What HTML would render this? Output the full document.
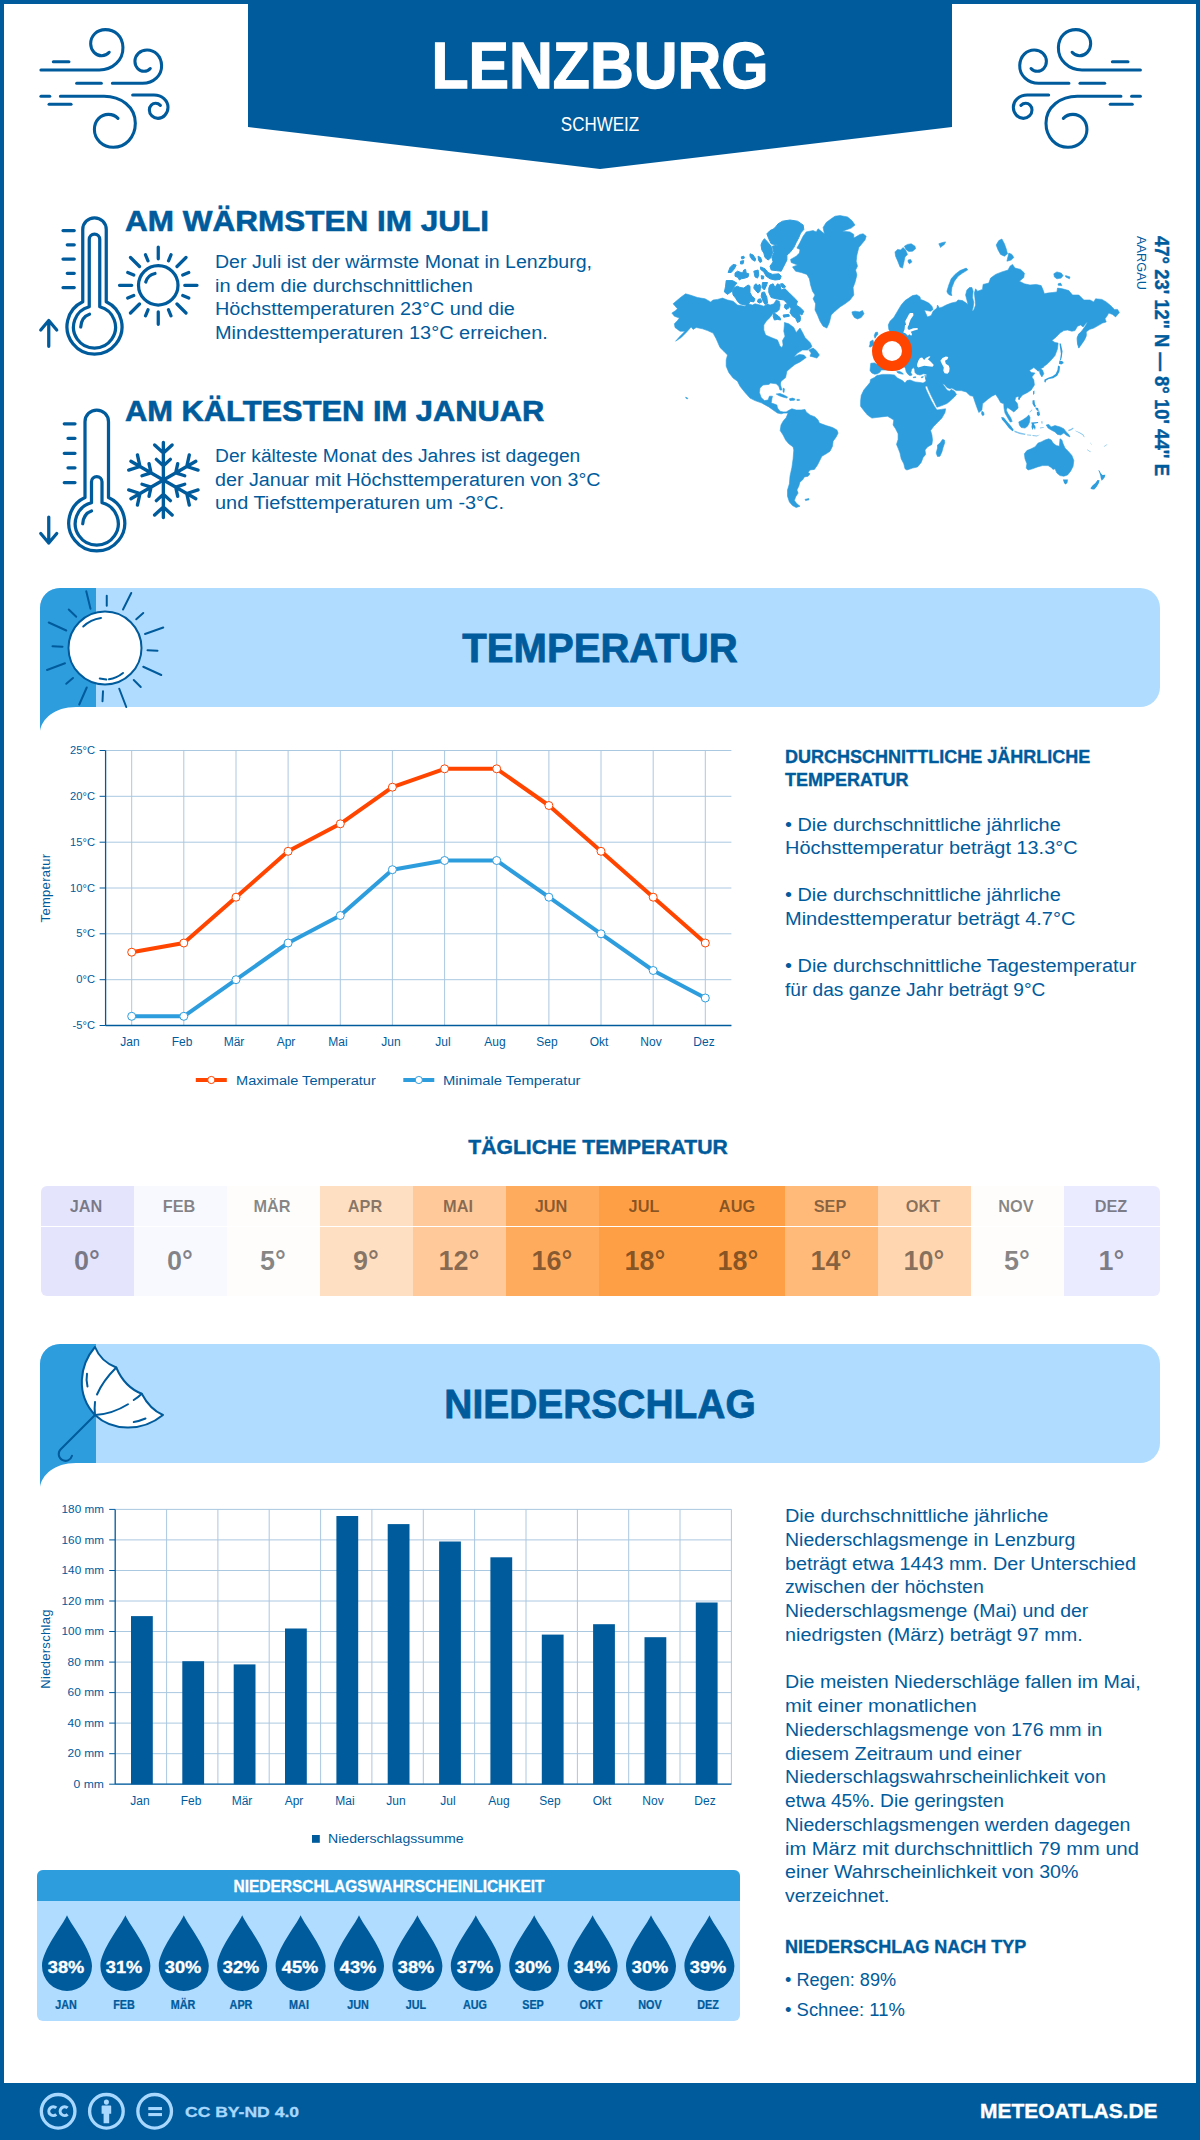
<!DOCTYPE html><html><head><meta charset="utf-8"><title>Lenzburg</title><style>
html,body{margin:0;padding:0;}
body{width:1200px;height:2140px;position:relative;overflow:hidden;background:#fff;font-family:"Liberation Sans", sans-serif;color:#005b9c;}
.abs{position:absolute;}
.t{position:absolute;white-space:nowrap;line-height:1;}
.b{font-weight:bold;}
.hv{-webkit-text-stroke:0.018em currentColor;}
svg{position:absolute;overflow:visible;}
</style></head><body>
<div class="abs" style="left:0;top:0;width:1200px;height:2140px;box-sizing:border-box;border:4px solid #005b9c;border-bottom:none;"></div>
<div class="abs" style="left:0;top:2083px;width:1200px;height:57px;background:#005b9c;"></div>
<svg style="left:0;top:0" width="1200" height="180" viewBox="0 0 1200 180"><polygon points="248,0 952,0 952,127 600,169 248,127" fill="#005b9c"/></svg>
<div class="t" id="title" style="top:33.52px;font-size:64px;font-weight:bold;color:#fff;letter-spacing:0px;-webkit-text-stroke:1.28px #fff;left:600px;transform:translateX(-50%) scaleX(0.9479);">LENZBURG</div>
<div class="t" id="country" style="top:115.19px;font-size:19.5px;font-weight:normal;color:#fff;letter-spacing:0px;left:600px;transform:translateX(-50%) scaleX(0.8709);">SCHWEIZ</div>
<div class="t" id="h1" style="top:205.50px;font-size:30px;font-weight:bold;color:#005b9c;letter-spacing:0px;-webkit-text-stroke:0.60px #005b9c;left:125px;transform-origin:0 50%;transform:scaleX(1.0501);">AM WÄRMSTEN IM JULI</div>
<div class="t" id="p1_0" style="top:253.16px;font-size:18px;font-weight:normal;color:#005b9c;letter-spacing:0px;left:215.3px;transform-origin:0 50%;transform:scaleX(1.0860);">Der Juli ist der wärmste Monat in Lenzburg,</div>
<div class="t" id="p1_1" style="top:276.76px;font-size:18px;font-weight:normal;color:#005b9c;letter-spacing:0px;left:215.3px;transform-origin:0 50%;transform:scaleX(1.1106);">in dem die durchschnittlichen</div>
<div class="t" id="p1_2" style="top:300.36px;font-size:18px;font-weight:normal;color:#005b9c;letter-spacing:0px;left:215.3px;transform-origin:0 50%;transform:scaleX(1.1008);">Höchsttemperaturen 23°C und die</div>
<div class="t" id="p1_3" style="top:323.96px;font-size:18px;font-weight:normal;color:#005b9c;letter-spacing:0px;left:215.3px;transform-origin:0 50%;transform:scaleX(1.1080);">Mindesttemperaturen 13°C erreichen.</div>
<div class="t" id="h2" style="top:395.50px;font-size:30px;font-weight:bold;color:#005b9c;letter-spacing:0px;-webkit-text-stroke:0.60px #005b9c;left:125px;transform-origin:0 50%;transform:scaleX(1.0285);">AM KÄLTESTEN IM JANUAR</div>
<div class="t" id="p2_0" style="top:446.96px;font-size:18px;font-weight:normal;color:#005b9c;letter-spacing:0px;left:215.3px;transform-origin:0 50%;transform:scaleX(1.0675);">Der kälteste Monat des Jahres ist dagegen</div>
<div class="t" id="p2_1" style="top:470.51px;font-size:18px;font-weight:normal;color:#005b9c;letter-spacing:0px;left:215.3px;transform-origin:0 50%;transform:scaleX(1.0943);">der Januar mit Höchsttemperaturen von 3°C</div>
<div class="t" id="p2_2" style="top:494.06px;font-size:18px;font-weight:normal;color:#005b9c;letter-spacing:0px;left:215.3px;transform-origin:0 50%;transform:scaleX(1.1059);">und Tiefsttemperaturen um -3°C.</div>
<svg style="left:30px;top:20px" width="160" height="140" viewBox="0 0 1200 1050" fill="none" stroke="#005b9c" stroke-width="23" stroke-linecap="round" stroke-linejoin="round">
<g id="wind">
<path d="M175,313 L292,313"/>
<path d="M82,375 L520,375 C620,375 700,300 697,205 C694,120 635,72 565,72 C500,72 455,120 455,178 C455,230 495,268 538,268 C562,268 582,256 594,242"/>
<path d="M350,475 L535,475"/>
<path d="M618,475 L845,475 C925,475 990,415 987,340 C984,270 935,225 878,225 C825,225 787,262 787,310 C787,352 818,385 855,385 C875,385 893,375 902,364"/>
<path d="M82,572 L148,572"/>
<path d="M228,572 L555,572 C680,572 790,650 790,775 C790,880 715,955 625,955 C545,955 483,895 483,822 C483,755 530,708 588,708 C620,708 645,722 660,738"/>
<path d="M143,632 L308,632"/>
<path d="M770,562 L930,562 C990,562 1035,605 1035,655 C1035,700 1000,738 960,738 C925,738 895,710 895,675 C895,645 918,625 942,625 C958,625 970,632 978,640"/>
</g>
</svg>
<svg style="left:1000px;top:20px" width="160" height="140" viewBox="0 0 1200 1050" fill="none" stroke="#005b9c" stroke-width="23" stroke-linecap="round" stroke-linejoin="round">
<use href="#wind" transform="translate(1135,0) scale(-1,1)"/>
</svg>
<!-- warm thermometer : viewBox = zoom coords of region [30,190,330,370] x4 -->
<svg style="left:30px;top:190px" width="300" height="180" viewBox="0 0 1200 720" fill="none" stroke="#005b9c" stroke-width="13" stroke-linecap="round" stroke-linejoin="round">
<path d="M132,162 H177 M149,219 H177 M132,276 H177 M149,333 H177 M132,390 H177"/>
<path d="M211,158 A47,47 0 0 1 305,158 L305,447 A110,110 0 1 1 211,447 Z"/>
<path d="M237,197 A21,21 0 0 1 279,197 L279,467 A84,84 0 1 1 237,467 Z"/>
<path d="M203,548 C205,520 220,503 238,497"/>
<path d="M75,625 V522 M43,560 L75,522 L107,560"/>
<!-- sun -->
<circle cx="513" cy="381" r="79"/>
<path d="M463,368 C468,350 482,338 500,334"/>
<path d="M513,275 V228 M513,487 V537 M407,381 H358 M619,381 H668 M438,306 L402,270 M588,306 L624,270 M438,456 L402,492 M588,456 L624,492"/>
<path d="M472,283 L462,259 M554,283 L564,259 M472,479 L462,503 M554,479 L564,503 M415,340 L391,330 M415,422 L391,432 M611,340 L635,330 M611,422 L635,432"/>
</svg>
<!-- cold thermometer : region [30,380,330,560] x4 -->
<svg style="left:30px;top:380px" width="300" height="180" viewBox="0 0 1200 720" fill="none" stroke="#005b9c" stroke-width="13" stroke-linecap="round" stroke-linejoin="round">
<path d="M137,175 H180 M152,233 H180 M137,293 H180 M152,351 H180 M137,410 H180"/>
<path d="M220,167 A47,47 0 0 1 314,167 L314,470 A112,112 0 1 1 220,470 Z"/>
<path d="M246,407 A21,21 0 0 1 288,407 L288,491 A86,86 0 1 1 246,491 Z"/>
<path d="M211,575 C213,547 228,530 246,524"/>
<path d="M75,548 V652 M43,614 L75,652 L107,614"/>
<!-- snowflake -->
<g stroke-width="13.5">
<path id="arm" d="M533.5,400 V250 M533.5,292 L498.5,260 M533.5,292 L568.5,260 M533.5,343 L505.5,317.5 M533.5,343 L561.5,317.5"/>
<use href="#arm" transform="rotate(60 533.5 400)"/>
<use href="#arm" transform="rotate(120 533.5 400)"/>
<use href="#arm" transform="rotate(180 533.5 400)"/>
<use href="#arm" transform="rotate(240 533.5 400)"/>
<use href="#arm" transform="rotate(300 533.5 400)"/>
</g>
</svg>

<svg style="left:0;top:0" width="1200" height="560" viewBox="0 0 1200 560"><path d="M685.6,293.8 690.0,295.0 697.5,297.5 705.0,298.8 710.6,301.9 713.1,300.0 717.5,299.4 722.5,298.1 727.5,300.0 733.1,301.2 737.5,305.0 745.0,306.2 747.5,303.8 752.5,305.0 755.0,303.8 760.0,305.0 763.8,306.2 767.5,303.8 770.0,305.0 773.8,303.8 776.2,300.0 779.4,301.2 780.2,305.0 779.4,309.4 776.9,311.9 773.5,312.8 770.0,317.5 766.2,321.2 763.8,325.0 763.8,330.0 765.6,335.0 771.2,337.5 777.5,340.0 780.0,346.2 781.9,347.5 783.1,345.0 782.5,340.6 785.0,336.2 783.8,331.2 784.4,325.0 784.4,322.5 788.8,323.8 793.8,327.5 796.2,332.5 800.0,328.1 802.5,332.5 805.0,337.5 810.0,342.5 811.9,346.2 811.2,347.5 807.5,350.0 802.5,350.0 797.5,353.1 793.8,356.9 799.4,354.4 803.8,355.0 806.2,357.5 800.0,361.9 795.0,364.4 791.2,367.5 786.9,371.2 785.6,377.5 781.2,381.2 779.8,383.8 780.0,380.6 780.6,385.0 781.9,390.0 780.0,390.0 778.8,386.2 776.2,383.8 770.6,383.1 768.8,384.4 763.1,385.0 760.0,388.1 759.4,392.5 761.2,397.5 764.4,400.6 768.1,400.0 769.4,396.2 772.5,396.2 771.9,398.8 771.2,403.1 773.8,403.8 776.9,405.0 777.5,408.1 780.0,411.2 783.1,411.9 786.2,411.9 789.4,410.0 791.9,408.8 796.2,410.0 801.2,410.0 805.0,409.4 806.2,411.9 810.0,415.0 815.0,416.9 818.1,420.0 819.4,423.1 826.2,425.6 832.5,427.5 836.9,430.0 838.1,433.1 836.2,436.9 833.1,441.2 832.5,446.2 830.0,451.2 826.2,453.8 821.9,456.2 820.0,460.0 817.5,465.0 814.4,469.4 810.0,470.0 808.1,472.5 810.0,473.8 808.1,476.2 804.4,476.9 802.5,480.0 800.0,481.9 798.8,486.2 796.9,490.0 798.1,493.1 795.6,496.9 794.4,500.6 796.9,503.8 800.0,506.2 796.2,507.5 792.5,505.6 789.4,501.9 787.5,496.2 787.5,490.0 789.4,483.8 790.0,476.2 791.9,467.5 793.1,458.8 793.8,450.0 793.1,446.9 788.8,443.8 785.6,440.0 783.1,435.0 780.2,430.6 781.0,425.0 783.1,421.2 786.2,417.5 788.1,413.1 783.8,413.1 781.2,413.8 777.5,413.1 773.1,410.0 768.8,406.9 761.9,403.1 755.0,400.6 750.0,398.1 745.0,392.5 740.0,386.2 737.5,381.2 733.1,378.1 728.8,372.5 726.2,366.2 726.2,360.0 727.5,355.0 723.8,351.2 720.0,347.5 716.2,338.8 713.1,333.1 707.5,330.6 702.5,328.8 696.2,327.5 693.1,329.4 691.2,326.9 686.2,332.5 681.2,337.5 675.6,341.2 680.0,336.2 685.0,331.2 680.0,331.2 675.0,327.5 674.4,323.8 677.5,320.6 679.4,318.1 674.4,316.2 671.9,313.1 675.6,310.6 677.5,308.8 673.1,303.8 677.5,300.0 681.2,296.9ZM776.2,394.0 780.0,393.5 783.8,395.0 787.5,396.9 786.9,398.1 782.5,396.9 778.8,395.6ZM789.4,398.8 792.5,398.1 795.0,399.0 794.4,400.2 790.0,400.6ZM796.9,399.4 799.4,399.4 799.4,400.4 796.9,400.4ZM783.1,388.1 784.4,388.8 784.0,392.5 783.1,391.9ZM805.0,499.4 808.8,498.5 809.0,499.8 805.6,500.6ZM808.8,350.0 813.1,348.1 816.2,350.6 819.4,355.0 816.9,358.1 813.1,356.9 810.0,356.2 811.2,353.1ZM685.6,397.2 687.5,397.9 687.8,398.8 686.2,398.5ZM840.0,215.6 847.5,216.9 851.9,220.6 855.0,225.0 851.2,228.1 842.5,231.2 850.0,231.9 853.8,234.4 853.8,238.1 860.0,234.4 863.1,233.8 866.2,236.2 865.0,240.0 861.9,243.8 858.8,247.5 856.9,255.0 856.2,261.2 857.5,266.2 855.6,270.0 856.9,275.0 855.0,282.5 853.1,287.5 853.8,295.0 850.0,300.0 845.0,303.8 840.0,306.9 835.0,311.2 831.2,315.0 829.4,322.5 826.9,328.1 823.1,326.2 820.0,321.2 817.5,315.0 815.0,310.0 815.6,303.8 813.1,298.8 815.0,295.0 812.5,291.2 810.6,285.0 809.4,278.8 806.9,274.4 801.2,272.5 795.6,271.2 792.5,266.9 797.5,265.0 791.2,262.5 790.6,259.4 796.2,256.2 799.4,253.1 800.0,249.4 796.9,248.1 800.0,242.5 803.1,236.2 806.2,231.9 813.1,230.6 816.2,231.9 818.1,228.8 824.4,233.8 823.1,227.5 826.2,222.5 831.2,218.8 835.0,216.2ZM851.9,311.9 855.0,311.2 859.4,311.9 862.5,310.6 864.0,313.8 861.2,317.5 857.5,319.0 854.4,317.5 852.5,314.4ZM895.0,251.9 897.5,249.4 900.6,250.0 903.1,247.5 905.6,250.0 907.5,254.4 905.0,256.9 903.8,262.5 902.5,268.1 900.0,266.9 898.1,261.9 895.6,256.2ZM904.4,246.2 907.5,244.4 911.2,243.8 915.0,246.2 915.6,248.8 912.5,251.2 908.8,251.5 906.0,249.4ZM908.1,260.0 910.6,259.4 911.9,261.9 909.4,263.8 908.1,261.9ZM938.8,243.8 942.5,242.5 945.6,241.9 944.4,244.4 941.9,246.2 940.6,247.5 939.4,245.0ZM946.9,291.2 948.8,285.0 951.2,278.8 955.0,274.4 960.0,270.6 966.2,268.1 967.8,269.8 962.5,273.1 958.1,276.2 954.4,281.2 951.9,287.5 951.2,293.1 951.9,295.6 949.4,295.0 947.5,293.1ZM996.2,245.0 998.8,240.6 1001.9,239.0 1004.4,243.8 1006.2,248.8 1007.5,253.8 1004.4,256.2 1000.6,254.4 998.1,250.0ZM1008.8,253.1 1011.9,254.4 1013.8,257.5 1011.2,260.0 1006.9,261.2ZM1053.8,273.8 1056.9,271.9 1061.2,273.1 1063.1,275.6 1061.2,278.1 1056.9,278.8 1054.4,276.9ZM1065.6,275.6 1070.0,276.9 1069.4,278.8 1065.6,276.9ZM1058.1,283.8 1060.6,283.1 1061.9,285.6 1058.1,285.2ZM890.0,321.2 893.8,317.5 897.5,311.2 901.2,305.0 905.0,300.6 908.8,298.1 912.5,295.6 916.9,294.8 920.0,296.9 920.6,299.4 923.8,300.6 928.8,303.1 931.9,306.2 933.1,309.4 930.6,311.2 926.9,310.6 924.4,310.0 925.6,313.1 927.5,316.9 931.2,315.6 933.1,311.2 936.9,308.1 937.5,305.0 939.4,308.1 942.5,306.9 946.2,305.0 951.2,303.1 956.2,301.9 958.1,300.0 962.5,300.6 966.2,303.1 968.1,304.4 966.9,300.0 965.6,295.0 966.9,290.0 969.4,287.5 971.9,287.5 973.1,291.2 972.5,297.5 973.8,302.5 973.1,307.5 971.9,311.2 973.8,310.0 975.6,305.0 975.0,298.8 974.4,293.1 975.6,288.8 977.5,291.2 982.5,289.4 983.1,284.4 988.8,283.1 990.6,278.1 995.6,274.4 1001.9,271.9 1008.1,270.0 1010.0,266.2 1012.5,264.4 1015.0,268.1 1020.6,269.4 1024.4,273.1 1023.8,277.5 1019.4,281.2 1024.4,283.8 1030.0,285.0 1036.2,284.4 1041.2,285.6 1043.1,290.0 1044.4,293.8 1047.5,293.1 1052.5,292.5 1056.9,291.9 1057.5,288.1 1062.5,288.8 1068.8,290.6 1072.5,295.0 1078.8,295.0 1081.9,298.1 1083.8,300.0 1090.0,300.0 1093.8,301.9 1095.6,298.8 1101.9,299.4 1106.2,301.9 1110.6,305.6 1114.4,309.4 1117.5,309.4 1119.4,312.5 1115.6,316.9 1112.5,314.4 1108.8,313.1 1106.9,316.2 1105.0,318.8 1106.2,321.9 1102.5,323.1 1098.1,325.6 1093.8,328.1 1089.4,329.4 1086.2,331.9 1086.2,336.2 1084.4,340.0 1081.9,343.8 1078.8,348.1 1077.5,343.8 1077.2,338.8 1078.8,334.4 1082.5,330.0 1085.6,325.6 1087.5,322.2 1086.2,323.1 1083.1,326.9 1080.6,325.0 1077.5,326.2 1075.0,330.6 1071.9,331.2 1067.5,330.0 1063.8,330.6 1060.0,333.1 1056.2,336.9 1051.9,340.6 1055.0,342.5 1058.1,343.1 1057.5,348.8 1055.0,355.6 1051.2,360.0 1047.5,363.8 1042.5,367.5 1043.8,366.9 1040.6,368.8 1042.5,370.0 1043.8,373.8 1041.9,376.9 1040.0,373.8 1039.4,370.6 1038.1,371.2 1036.2,369.4 1033.8,367.5 1029.4,370.6 1031.2,372.5 1035.0,373.1 1031.9,376.9 1033.8,380.0 1034.4,385.0 1031.2,390.0 1027.5,392.5 1022.5,395.0 1019.4,398.8 1018.1,396.2 1015.6,397.5 1015.0,400.6 1017.5,403.8 1018.1,408.1 1013.8,411.9 1011.2,410.0 1007.5,407.5 1006.2,410.0 1008.1,413.8 1010.6,417.5 1012.2,421.5 1010.2,422.0 1007.5,417.5 1005.0,413.1 1004.0,408.1 1003.8,403.8 1000.6,402.5 998.1,398.1 995.6,394.4 991.9,396.2 987.5,399.4 982.5,403.8 981.9,410.0 978.8,412.5 975.6,403.8 973.1,396.2 970.0,395.6 966.2,391.9 961.2,390.6 956.2,390.6 951.9,388.1 950.0,388.8 946.9,387.5 944.4,384.4 942.5,383.8 944.4,386.2 946.9,390.0 949.4,391.2 951.2,389.4 954.4,391.2 956.5,394.4 954.4,396.9 950.6,400.6 946.9,403.5 941.9,405.6 936.9,407.2 934.4,401.9 931.2,395.6 928.1,388.8 926.2,381.9 925.0,375.0 925.8,379.2 926.7,374.2 923.3,373.8 920.0,375.0 916.7,374.2 915.0,372.5 914.6,369.2 913.3,367.5 911.7,369.2 910.8,372.5 912.1,375.0 910.0,375.8 907.9,374.2 906.2,371.7 905.4,368.3 904.2,366.7 897.9,370.0 881.2,370.0 880.0,372.1 877.5,373.8 874.6,374.2 871.7,372.9 870.0,370.4 870.4,366.7 870.8,363.3 874.6,362.9 876.7,364.2 879.2,361.7 881.7,350.0 885.0,337.5 890.0,331.7 888.8,329.2 888.3,325.0ZM896.7,371.7 899.2,371.2 902.5,372.9 903.3,374.2 900.8,373.8 897.9,372.9ZM913.3,377.1 915.8,376.8 915.8,377.5 913.3,377.7ZM921.2,377.1 923.3,376.5 922.9,377.5 921.4,377.7ZM875.4,332.5 877.5,332.1 877.9,334.2 876.2,336.2 875.0,338.3 874.2,335.8ZM870.0,341.7 872.9,340.0 873.8,342.9 872.5,345.8 870.4,347.1 869.2,346.7 870.0,344.2ZM876.9,375.6 882.5,374.4 888.8,374.4 894.4,375.0 897.5,378.1 902.5,380.6 905.0,383.1 906.9,380.6 910.0,380.0 915.0,381.9 920.0,382.5 923.1,383.1 925.6,381.5 928.5,382.5 928.0,385.8 925.0,386.5 926.2,390.0 928.8,395.6 931.2,400.6 934.4,406.2 936.9,410.0 941.2,409.4 945.6,408.8 945.0,412.5 941.9,418.1 937.5,422.5 933.8,426.2 930.6,430.6 931.9,435.0 932.5,440.0 931.9,444.4 927.5,446.9 925.0,450.0 925.6,454.4 923.1,457.5 921.2,462.5 917.5,466.9 912.5,468.1 906.9,470.0 905.0,468.8 903.8,463.8 901.2,458.8 900.0,453.1 898.1,448.1 896.5,444.4 898.1,439.4 898.1,433.8 895.6,428.8 893.1,425.0 893.8,420.0 890.6,418.1 887.5,416.2 881.2,416.9 876.2,417.5 871.9,418.1 867.5,415.0 863.8,410.6 860.6,406.2 860.6,401.2 861.2,395.6 863.8,390.0 867.5,385.6 870.0,382.5 870.6,379.4 874.4,377.5ZM942.5,439.4 944.4,440.0 944.8,442.5 943.1,447.5 941.9,451.9 940.0,456.2 937.5,456.5 936.2,453.1 937.5,448.1 937.5,445.0 940.0,443.1ZM981.9,411.2 983.8,412.5 984.0,415.0 982.5,415.6 981.5,413.8ZM1078.8,333.8 1081.9,331.9 1085.0,330.0 1086.2,334.4 1084.4,339.4 1081.2,343.8 1078.8,347.5 1077.5,342.5 1077.2,337.5ZM1018.8,421.9 1022.5,420.0 1026.2,417.5 1028.8,415.0 1030.0,417.5 1029.4,422.5 1027.5,426.2 1025.0,428.1 1021.2,427.5 1019.4,425.0ZM1046.2,425.0 1048.8,424.4 1051.2,426.9 1055.0,425.6 1060.0,426.9 1063.8,428.8 1066.2,431.9 1068.8,434.4 1070.0,436.9 1066.9,435.6 1063.8,433.1 1060.6,435.0 1057.5,434.4 1055.0,431.9 1051.2,430.0 1048.1,428.1ZM1045.0,440.0 1048.8,438.8 1051.2,440.0 1053.1,443.1 1056.2,445.6 1059.4,446.2 1060.0,438.8 1061.9,440.0 1063.1,443.8 1065.0,448.1 1068.8,451.9 1071.9,455.6 1073.8,460.6 1073.1,466.2 1070.6,471.2 1067.5,475.0 1063.8,476.2 1060.0,475.6 1056.9,473.1 1055.0,468.8 1053.1,469.4 1051.2,467.5 1048.1,465.6 1042.5,465.6 1037.5,466.9 1032.5,468.8 1028.1,470.0 1026.2,468.1 1026.9,463.8 1025.0,458.8 1024.4,453.8 1026.9,450.6 1031.2,448.8 1035.0,446.9 1038.1,443.1 1041.2,441.9Z" fill="#2e9dde" stroke="#2e9dde" stroke-width="0.6" stroke-linejoin="round"/><path d="M782.5,221.2 790.0,220.0 797.5,221.2 803.1,225.0 803.8,229.4 800.6,233.1 798.8,237.5 796.2,242.5 793.8,247.5 790.0,252.5 786.9,255.0 786.9,260.0 785.0,263.8 783.1,267.5 781.2,271.2 776.2,270.6 771.2,270.0 770.0,266.2 773.1,261.9 771.9,257.5 773.8,252.5 772.5,246.2 777.5,245.0 771.2,243.8 768.8,238.8 766.9,233.8 770.0,230.6 773.8,228.8 776.2,226.2 778.1,223.8ZM764.4,238.8 766.9,241.2 770.0,245.0 771.9,247.5 772.5,253.1 770.6,258.1 768.1,260.0 765.0,257.5 763.8,253.1 761.9,250.0 761.0,245.0 762.5,241.2ZM760.6,266.9 765.0,268.8 768.1,272.5 772.5,274.4 778.8,273.8 781.2,276.2 780.0,279.4 775.0,280.0 770.0,278.8 766.2,276.2 763.8,271.9 760.6,269.4ZM741.2,256.9 743.8,256.2 744.4,258.1 741.9,259.0ZM740.6,261.2 743.8,260.6 743.1,263.8 740.6,264.0ZM750.0,253.8 753.1,255.0 755.6,258.8 755.0,261.2 751.9,259.4 750.0,256.2ZM758.1,256.2 760.6,257.5 761.9,261.2 760.0,262.5 758.5,260.0ZM730.0,267.5 733.1,264.4 736.2,265.0 734.4,268.8 731.2,272.5 728.1,272.5ZM735.0,273.1 737.5,271.2 742.5,273.1 743.8,270.0 745.6,269.4 746.2,273.1 748.8,273.8 748.1,276.9 745.0,278.1 741.2,278.8 739.4,280.0 738.1,277.5 735.0,276.2ZM753.8,271.2 758.1,270.0 758.8,275.0 757.5,278.1 755.0,276.9 754.4,273.8ZM761.2,275.6 763.8,276.2 763.5,278.8 761.5,279.0ZM726.2,280.6 732.5,280.6 736.9,283.1 734.4,286.2 731.9,291.2 727.5,294.4 724.4,291.9 725.6,286.2ZM734.4,287.5 737.5,286.2 740.0,287.5 743.8,288.1 748.1,285.0 750.0,286.2 750.0,292.5 751.9,296.2 755.0,298.8 753.8,301.9 750.0,301.2 748.8,303.8 745.0,305.0 740.0,303.8 737.5,301.2 735.6,298.1 733.1,295.0 732.5,291.2ZM754.4,285.0 756.2,283.8 758.1,286.2 759.4,284.0 760.6,286.2 760.0,291.2 758.1,293.1 755.6,290.6 753.8,288.1ZM762.5,282.5 767.5,282.5 766.2,286.2 764.4,290.0 761.9,287.5ZM758.1,299.4 760.6,298.8 761.9,301.9 759.4,303.1 757.5,301.9ZM761.9,292.5 764.4,291.9 766.9,297.5 767.5,303.1 765.0,304.4 763.1,301.2 761.2,296.2ZM770.0,285.0 773.1,283.8 775.0,287.5 777.5,283.8 780.0,285.0 781.2,290.0 785.0,288.8 788.8,292.5 793.8,297.5 797.5,301.2 796.2,305.0 800.0,307.5 803.8,311.2 801.9,315.0 798.8,313.1 800.6,317.5 800.0,321.2 797.5,322.5 795.6,318.1 792.5,316.2 790.0,312.5 791.2,308.8 788.8,306.2 786.2,302.5 783.8,300.0 780.0,299.4 776.2,298.8 771.2,297.5 768.8,292.5 768.8,288.1ZM780.6,283.8 783.1,283.8 785.6,286.9 783.1,288.1 781.2,286.2ZM773.8,312.5 776.9,315.0 780.0,317.5 780.6,320.0 777.5,319.4 774.4,320.0 773.1,316.2ZM785.0,304.4 788.1,305.0 788.8,308.1 786.2,309.4 784.4,307.5ZM783.1,315.0 788.8,314.4 789.4,316.2 783.8,317.2Z" fill="#2e9dde" stroke="#2e9dde" stroke-width="1.0" stroke-linejoin="round"/><path d="M1059.5,343.5 1060.8,343.5 1062.5,351.2 1061.8,356.9 1060.9,360.2 1060.0,360.0 1060.9,353.8 1060.2,348.8ZM1059.4,360.6 1062.5,361.2 1063.8,363.1 1061.2,364.4 1059.0,363.8ZM1058.0,365.4 1060.0,366.5 1059.5,371.2 1057.2,375.8 1053.1,378.2 1048.8,379.1 1045.4,381.0 1044.8,379.6 1048.1,377.8 1052.5,376.2 1055.6,374.0 1057.5,370.0ZM1044.4,379.4 1046.2,380.0 1045.6,382.5 1044.4,381.9ZM1033.1,391.2 1034.4,390.6 1034.4,393.8 1033.1,395.0ZM1018.1,398.1 1020.0,397.5 1020.0,399.4 1018.5,400.0ZM1032.5,400.6 1034.4,400.0 1035.0,404.4 1036.2,406.2 1034.4,406.9 1032.5,403.8ZM1035.0,407.5 1038.1,408.1 1038.8,411.2 1036.9,410.6ZM1036.9,411.9 1039.4,411.2 1040.0,415.0 1038.1,416.2 1036.9,414.4ZM1001.2,416.9 1003.8,417.5 1007.5,421.9 1011.2,426.2 1013.8,430.0 1012.5,431.2 1008.8,428.1 1005.0,423.1 1001.9,419.4ZM1031.2,422.5 1038.1,421.9 1038.1,423.1 1033.8,423.8 1035.6,426.9 1035.0,430.0 1033.8,427.5 1032.5,430.0 1031.5,426.9 1031.9,424.4ZM1062.9,479.6 1067.9,479.6 1067.5,482.5 1065.8,484.6 1064.2,483.3ZM1098.3,470.0 1099.6,470.8 1100.8,473.3 1102.5,475.0 1105.4,474.8 1104.6,477.5 1102.9,479.6 1101.7,480.8 1100.8,478.3 1100.4,475.8 1099.6,473.3ZM1097.5,480.0 1099.6,480.2 1098.8,483.3 1096.7,486.7 1094.2,489.6 1091.7,489.2 1090.4,488.3 1092.5,485.4 1095.4,482.9Z" fill="#2e9dde"/><path d="M1029.4,411.9 1031.9,409.4 1032.4,410.0 1029.9,412.5ZM1014.4,430.6 1020.0,432.5 1025.6,433.8 1025.0,435.0 1019.4,434.0 1014.4,431.9ZM1026.9,434.4 1031.2,434.8 1031.0,435.8 1026.9,435.2ZM1032.5,435.0 1036.9,435.6 1040.0,434.4 1036.9,436.5 1032.5,436.0ZM1041.2,421.2 1042.5,421.2 1042.5,423.8 1041.5,423.5ZM1040.0,427.5 1043.8,426.9 1043.8,427.8 1040.2,428.5ZM1068.1,430.0 1071.2,428.8 1073.1,427.5 1073.5,428.8 1071.2,430.2 1068.8,431.2ZM1087.1,449.2 1090.8,451.7 1090.4,452.3 1087.1,450.0ZM1090.0,442.1 1091.7,444.6 1091.2,444.8ZM1103.8,446.2 1107.1,444.2 1107.3,444.7 1104.2,446.8ZM1075.4,430.4 1080.0,432.5 1083.3,434.6 1084.6,437.1 1084.0,437.2 1082.5,435.0 1079.6,433.2 1075.4,431.0Z" fill="#2e9dde" opacity="0.6"/><path d="M917.1,364.2 918.3,360.8 920.0,357.9 922.1,357.5 924.2,360.0 925.8,357.9 929.2,356.2 930.4,356.7 927.9,359.2 930.8,361.7 933.8,365.0 932.5,366.7 928.3,366.2 924.2,365.8 920.8,366.7 918.3,367.5 917.1,366.2ZM940.4,360.8 942.5,357.9 945.8,356.5 948.3,357.1 947.5,359.2 945.0,360.8 945.8,363.8 948.8,365.8 949.6,368.3 949.2,371.7 947.5,373.8 944.6,373.3 943.3,370.8 943.8,367.5 942.1,364.2ZM905.0,325.0 908.3,325.0 907.5,328.3 908.8,330.0 913.3,328.3 917.5,327.9 917.9,329.6 914.2,330.4 910.8,331.7 912.1,334.2 911.2,335.8 909.2,334.2 907.9,335.8 905.4,333.3 903.3,332.5 904.6,329.2ZM910.0,313.1 913.1,313.1 913.5,315.2 910.6,319.4 909.0,323.8 908.8,325.6 906.2,325.6 905.2,321.2 907.5,316.9 908.8,314.4Z" fill="#fff"/><circle cx="892" cy="351" r="15" fill="#fff" stroke="#ff4500" stroke-width="10"/></svg>
<div class="t b" id="coord" style="left:1161.6px;top:236px;font-size:20px;-webkit-text-stroke:0.4px #005b9c;transform-origin:0 0;transform:rotate(90deg) translateY(-50%) scaleX(0.9262);">47° 23' 12'' N — 8° 10' 44'' E</div>
<div class="t" id="region" style="left:1140.6px;top:236px;font-size:12.5px;transform-origin:0 0;transform:rotate(90deg) translateY(-50%) scaleX(1.02);">AARGAU</div>
<div class="abs" style="left:40px;top:588.4px;width:1120.3px;height:119px;background:#b0dcff;border-radius:20px 20px 20px 0;"></div>
<svg style="left:40px;top:588.4px" width="60" height="145" viewBox="0 0 60 145"><path d="M0,20 A20,20 0 0 1 20,0 L56,0 L56,119 L36,119 C14,119 2,131 0,143 Z" fill="#2e9dde"/></svg>
<div class="t" id="bt1" style="top:626.72px;font-size:41.5px;font-weight:bold;color:#005b9c;letter-spacing:0px;-webkit-text-stroke:0.83px #005b9c;left:600px;transform:translateX(-50%) scaleX(0.9663);">TEMPERATUR</div>
<div class="abs" style="left:40px;top:1344.3px;width:1120.3px;height:119px;background:#b0dcff;border-radius:20px 20px 20px 0;"></div>
<svg style="left:40px;top:1344.3px" width="60" height="145" viewBox="0 0 60 145"><path d="M0,20 A20,20 0 0 1 20,0 L56,0 L56,119 L36,119 C14,119 2,131 0,143 Z" fill="#2e9dde"/></svg>
<div class="t" id="bt2" style="top:1382.62px;font-size:41.5px;font-weight:bold;color:#005b9c;letter-spacing:0px;-webkit-text-stroke:0.83px #005b9c;left:600px;transform:translateX(-50%) scaleX(0.9379);">NIEDERSCHLAG</div>
<!-- sun: region [20,570,320,760] x4 -->
<svg style="left:20px;top:570px" width="300" height="190" viewBox="0 0 1200 760" fill="none" stroke="#005b9c" stroke-width="8" stroke-linecap="round" stroke-linejoin="round">
<circle cx="340" cy="312" r="146" fill="#fff"/>
<path d="M253,226 C272,208 298,196 324,192 M319,434 L345,438 M356,437 C378,434 396,425 412,412"/>
<path d="M265,85 L282,155 M347,103 L347,143 M445,92 L412,158 M493,172 L465,197 M573,230 L500,256 M550,323 L510,321 M565,420 L493,387 M483,468 L455,440 M425,548 L397,475 M330,525 L332,485 M237,538 L267,470 M185,455 L212,432 M108,400 L180,373 M130,305 L170,307 M115,210 L185,242 M195,158 L225,187"/>
</svg>
<!-- umbrella: region [20,1330,320,1520] x4 -->
<svg style="left:20px;top:1330px" width="300" height="190" viewBox="0 0 1200 760" fill="none" stroke="#005b9c" stroke-width="8" stroke-linecap="round" stroke-linejoin="round">
<path d="M300,340 L163,477 A27,27 0 1 0 208,503"/>
<path d="M300,68 C238,140 222,258 300,340 C368,404 486,410 572,340 Q520,318 487,255 Q418,228 385,150 Q322,125 300,68 Z" fill="#fff"/>
<path d="M385,150 C350,185 322,225 308,258 M300,288 C298,305 298,322 300,340" />
<path d="M300,340 C345,338 395,320 432,297 M455,280 C468,272 478,264 487,255"/>
<path d="M268,175 C265,192 266,210 270,226 M455,368 C472,365 488,360 502,354"/>
</svg>

<svg style="left:0;top:0" width="1200" height="1120" viewBox="0 0 1200 1120"><line x1="105.6" y1="1025.5" x2="731.4" y2="1025.5" stroke="#aac8e0" stroke-width="1"/><line x1="99.6" y1="1025.5" x2="105.6" y2="1025.5" stroke="#005b9c" stroke-width="1"/><line x1="105.6" y1="979.7" x2="731.4" y2="979.7" stroke="#aac8e0" stroke-width="1"/><line x1="99.6" y1="979.7" x2="105.6" y2="979.7" stroke="#005b9c" stroke-width="1"/><line x1="105.6" y1="933.8" x2="731.4" y2="933.8" stroke="#aac8e0" stroke-width="1"/><line x1="99.6" y1="933.8" x2="105.6" y2="933.8" stroke="#005b9c" stroke-width="1"/><line x1="105.6" y1="888.0" x2="731.4" y2="888.0" stroke="#aac8e0" stroke-width="1"/><line x1="99.6" y1="888.0" x2="105.6" y2="888.0" stroke="#005b9c" stroke-width="1"/><line x1="105.6" y1="842.2" x2="731.4" y2="842.2" stroke="#aac8e0" stroke-width="1"/><line x1="99.6" y1="842.2" x2="105.6" y2="842.2" stroke="#005b9c" stroke-width="1"/><line x1="105.6" y1="796.3" x2="731.4" y2="796.3" stroke="#aac8e0" stroke-width="1"/><line x1="99.6" y1="796.3" x2="105.6" y2="796.3" stroke="#005b9c" stroke-width="1"/><line x1="105.6" y1="750.5" x2="731.4" y2="750.5" stroke="#aac8e0" stroke-width="1"/><line x1="99.6" y1="750.5" x2="105.6" y2="750.5" stroke="#005b9c" stroke-width="1"/><line x1="131.7" y1="750.5" x2="131.7" y2="1025.5" stroke="#aac8e0" stroke-width="1"/><line x1="183.8" y1="750.5" x2="183.8" y2="1025.5" stroke="#aac8e0" stroke-width="1"/><line x1="236.0" y1="750.5" x2="236.0" y2="1025.5" stroke="#aac8e0" stroke-width="1"/><line x1="288.1" y1="750.5" x2="288.1" y2="1025.5" stroke="#aac8e0" stroke-width="1"/><line x1="340.3" y1="750.5" x2="340.3" y2="1025.5" stroke="#aac8e0" stroke-width="1"/><line x1="392.4" y1="750.5" x2="392.4" y2="1025.5" stroke="#aac8e0" stroke-width="1"/><line x1="444.6" y1="750.5" x2="444.6" y2="1025.5" stroke="#aac8e0" stroke-width="1"/><line x1="496.7" y1="750.5" x2="496.7" y2="1025.5" stroke="#aac8e0" stroke-width="1"/><line x1="548.9" y1="750.5" x2="548.9" y2="1025.5" stroke="#aac8e0" stroke-width="1"/><line x1="601.0" y1="750.5" x2="601.0" y2="1025.5" stroke="#aac8e0" stroke-width="1"/><line x1="653.2" y1="750.5" x2="653.2" y2="1025.5" stroke="#aac8e0" stroke-width="1"/><line x1="705.3" y1="750.5" x2="705.3" y2="1025.5" stroke="#aac8e0" stroke-width="1"/><line x1="105.6" y1="750.5" x2="105.6" y2="1025.5" stroke="#005b9c" stroke-width="1.3"/><line x1="105.6" y1="1025.5" x2="731.4" y2="1025.5" stroke="#005b9c" stroke-width="1.3"/><polyline points="131.7,952.2 183.8,943.0 236.0,897.2 288.1,851.3 340.3,823.8 392.4,787.2 444.6,768.8 496.7,768.8 548.9,805.5 601.0,851.3 653.2,897.2 705.3,943.0" fill="none" stroke="#ff4500" stroke-width="4" stroke-linejoin="round"/><circle cx="131.7" cy="952.2" r="4" fill="#fff" stroke="#ff4500" stroke-width="1"/><circle cx="183.8" cy="943.0" r="4" fill="#fff" stroke="#ff4500" stroke-width="1"/><circle cx="236.0" cy="897.2" r="4" fill="#fff" stroke="#ff4500" stroke-width="1"/><circle cx="288.1" cy="851.3" r="4" fill="#fff" stroke="#ff4500" stroke-width="1"/><circle cx="340.3" cy="823.8" r="4" fill="#fff" stroke="#ff4500" stroke-width="1"/><circle cx="392.4" cy="787.2" r="4" fill="#fff" stroke="#ff4500" stroke-width="1"/><circle cx="444.6" cy="768.8" r="4" fill="#fff" stroke="#ff4500" stroke-width="1"/><circle cx="496.7" cy="768.8" r="4" fill="#fff" stroke="#ff4500" stroke-width="1"/><circle cx="548.9" cy="805.5" r="4" fill="#fff" stroke="#ff4500" stroke-width="1"/><circle cx="601.0" cy="851.3" r="4" fill="#fff" stroke="#ff4500" stroke-width="1"/><circle cx="653.2" cy="897.2" r="4" fill="#fff" stroke="#ff4500" stroke-width="1"/><circle cx="705.3" cy="943.0" r="4" fill="#fff" stroke="#ff4500" stroke-width="1"/><polyline points="131.7,1016.3 183.8,1016.3 236.0,979.7 288.1,943.0 340.3,915.5 392.4,869.7 444.6,860.5 496.7,860.5 548.9,897.2 601.0,933.8 653.2,970.5 705.3,998.0" fill="none" stroke="#2e9dde" stroke-width="4" stroke-linejoin="round"/><circle cx="131.7" cy="1016.3" r="4" fill="#fff" stroke="#2e9dde" stroke-width="1"/><circle cx="183.8" cy="1016.3" r="4" fill="#fff" stroke="#2e9dde" stroke-width="1"/><circle cx="236.0" cy="979.7" r="4" fill="#fff" stroke="#2e9dde" stroke-width="1"/><circle cx="288.1" cy="943.0" r="4" fill="#fff" stroke="#2e9dde" stroke-width="1"/><circle cx="340.3" cy="915.5" r="4" fill="#fff" stroke="#2e9dde" stroke-width="1"/><circle cx="392.4" cy="869.7" r="4" fill="#fff" stroke="#2e9dde" stroke-width="1"/><circle cx="444.6" cy="860.5" r="4" fill="#fff" stroke="#2e9dde" stroke-width="1"/><circle cx="496.7" cy="860.5" r="4" fill="#fff" stroke="#2e9dde" stroke-width="1"/><circle cx="548.9" cy="897.2" r="4" fill="#fff" stroke="#2e9dde" stroke-width="1"/><circle cx="601.0" cy="933.8" r="4" fill="#fff" stroke="#2e9dde" stroke-width="1"/><circle cx="653.2" cy="970.5" r="4" fill="#fff" stroke="#2e9dde" stroke-width="1"/><circle cx="705.3" cy="998.0" r="4" fill="#fff" stroke="#2e9dde" stroke-width="1"/><line x1="195.8" y1="1080" x2="226.8" y2="1080" stroke="#ff4500" stroke-width="4"/><circle cx="211.3" cy="1080" r="3.6" fill="#fff" stroke="#ff4500" stroke-width="1"/><line x1="403.3" y1="1080" x2="434.3" y2="1080" stroke="#2e9dde" stroke-width="4"/><circle cx="418.8" cy="1080" r="3.6" fill="#fff" stroke="#2e9dde" stroke-width="1"/></svg>
<div class="t" style="top:1020.11px;font-size:10.5px;font-weight:normal;color:#005b9c;letter-spacing:0px;left:94.6px;transform-origin:100% 50%;transform:translateX(-100%) scaleX(1.0600);">-5°C</div>
<div class="t" style="top:974.28px;font-size:10.5px;font-weight:normal;color:#005b9c;letter-spacing:0px;left:94.6px;transform-origin:100% 50%;transform:translateX(-100%) scaleX(1.0600);">0°C</div>
<div class="t" style="top:928.45px;font-size:10.5px;font-weight:normal;color:#005b9c;letter-spacing:0px;left:94.6px;transform-origin:100% 50%;transform:translateX(-100%) scaleX(1.0600);">5°C</div>
<div class="t" style="top:882.61px;font-size:10.5px;font-weight:normal;color:#005b9c;letter-spacing:0px;left:94.6px;transform-origin:100% 50%;transform:translateX(-100%) scaleX(1.0600);">10°C</div>
<div class="t" style="top:836.78px;font-size:10.5px;font-weight:normal;color:#005b9c;letter-spacing:0px;left:94.6px;transform-origin:100% 50%;transform:translateX(-100%) scaleX(1.0600);">15°C</div>
<div class="t" style="top:790.95px;font-size:10.5px;font-weight:normal;color:#005b9c;letter-spacing:0px;left:94.6px;transform-origin:100% 50%;transform:translateX(-100%) scaleX(1.0600);">20°C</div>
<div class="t" style="top:745.11px;font-size:10.5px;font-weight:normal;color:#005b9c;letter-spacing:0px;left:94.6px;transform-origin:100% 50%;transform:translateX(-100%) scaleX(1.0600);">25°C</div>
<div class="t" style="top:1035.62px;font-size:12.5px;font-weight:normal;color:#005b9c;letter-spacing:0px;left:129.87499999999997px;transform:translateX(-50%) scaleX(0.9600);">Jan</div>
<div class="t" style="top:1035.62px;font-size:12.5px;font-weight:normal;color:#005b9c;letter-spacing:0px;left:182.02499999999998px;transform:translateX(-50%) scaleX(0.9600);">Feb</div>
<div class="t" style="top:1035.62px;font-size:12.5px;font-weight:normal;color:#005b9c;letter-spacing:0px;left:234.17499999999998px;transform:translateX(-50%) scaleX(0.9600);">Mär</div>
<div class="t" style="top:1035.62px;font-size:12.5px;font-weight:normal;color:#005b9c;letter-spacing:0px;left:286.325px;transform:translateX(-50%) scaleX(0.9600);">Apr</div>
<div class="t" style="top:1035.62px;font-size:12.5px;font-weight:normal;color:#005b9c;letter-spacing:0px;left:338.47499999999997px;transform:translateX(-50%) scaleX(0.9600);">Mai</div>
<div class="t" style="top:1035.62px;font-size:12.5px;font-weight:normal;color:#005b9c;letter-spacing:0px;left:390.62499999999994px;transform:translateX(-50%) scaleX(0.9600);">Jun</div>
<div class="t" style="top:1035.62px;font-size:12.5px;font-weight:normal;color:#005b9c;letter-spacing:0px;left:442.7749999999999px;transform:translateX(-50%) scaleX(0.9600);">Jul</div>
<div class="t" style="top:1035.62px;font-size:12.5px;font-weight:normal;color:#005b9c;letter-spacing:0px;left:494.925px;transform:translateX(-50%) scaleX(0.9600);">Aug</div>
<div class="t" style="top:1035.62px;font-size:12.5px;font-weight:normal;color:#005b9c;letter-spacing:0px;left:547.075px;transform:translateX(-50%) scaleX(0.9600);">Sep</div>
<div class="t" style="top:1035.62px;font-size:12.5px;font-weight:normal;color:#005b9c;letter-spacing:0px;left:599.225px;transform:translateX(-50%) scaleX(0.9600);">Okt</div>
<div class="t" style="top:1035.62px;font-size:12.5px;font-weight:normal;color:#005b9c;letter-spacing:0px;left:651.375px;transform:translateX(-50%) scaleX(0.9600);">Nov</div>
<div class="t" style="top:1035.62px;font-size:12.5px;font-weight:normal;color:#005b9c;letter-spacing:0px;left:703.5250000000001px;transform:translateX(-50%) scaleX(0.9600);">Dez</div>
<div class="t" id="leg1" style="top:1074.62px;font-size:12.5px;font-weight:normal;color:#005b9c;letter-spacing:0px;left:236px;transform-origin:0 50%;transform:scaleX(1.1655);">Maximale Temperatur</div>
<div class="t" id="leg2" style="top:1074.62px;font-size:12.5px;font-weight:normal;color:#005b9c;letter-spacing:0px;left:442.6px;transform-origin:0 50%;transform:scaleX(1.1805);">Minimale Temperatur</div>
<div class="t" id="yl1" style="left:45px;top:888px;font-size:13px;letter-spacing:0.3px;transform:translate(-50%,-50%) rotate(-90deg);">Temperatur</div>
<div class="t" id="rt_h1" style="top:748.06px;font-size:18px;font-weight:bold;color:#005b9c;letter-spacing:0px;-webkit-text-stroke:0.36px #005b9c;left:785.3px;transform-origin:0 50%;transform:scaleX(1.0010);">DURCHSCHNITTLICHE JÄHRLICHE</div>
<div class="t" id="rt_h2" style="top:771.46px;font-size:18px;font-weight:bold;color:#005b9c;letter-spacing:0px;-webkit-text-stroke:0.36px #005b9c;left:785.3px;transform-origin:0 50%;transform:scaleX(0.9995);">TEMPERATUR</div>
<div class="t" id="rt_0" style="top:815.56px;font-size:18px;font-weight:normal;color:#005b9c;letter-spacing:0px;left:785.0px;transform-origin:0 50%;transform:scaleX(1.1054);">• Die durchschnittliche jährliche</div>
<div class="t" id="rt_1" style="top:838.86px;font-size:18px;font-weight:normal;color:#005b9c;letter-spacing:0px;left:785.0px;transform-origin:0 50%;transform:scaleX(1.1069);">Höchsttemperatur beträgt 13.3°C</div>
<div class="t" id="rt_2" style="top:886.46px;font-size:18px;font-weight:normal;color:#005b9c;letter-spacing:0px;left:785.0px;transform-origin:0 50%;transform:scaleX(1.1054);">• Die durchschnittliche jährliche</div>
<div class="t" id="rt_3" style="top:910.06px;font-size:18px;font-weight:normal;color:#005b9c;letter-spacing:0px;left:785.0px;transform-origin:0 50%;transform:scaleX(1.1113);">Mindesttemperatur beträgt 4.7°C</div>
<div class="t" id="rt_4" style="top:957.26px;font-size:18px;font-weight:normal;color:#005b9c;letter-spacing:0px;left:785.0px;transform-origin:0 50%;transform:scaleX(1.1078);">• Die durchschnittliche Tagestemperatur</div>
<div class="t" id="rt_5" style="top:980.96px;font-size:18px;font-weight:normal;color:#005b9c;letter-spacing:0px;left:785.0px;transform-origin:0 50%;transform:scaleX(1.0614);">für das ganze Jahr beträgt 9°C</div>
<div class="t" id="dt_h" style="top:1135.92px;font-size:21px;font-weight:bold;color:#005b9c;letter-spacing:0px;-webkit-text-stroke:0.42px #005b9c;left:597.9px;transform:translateX(-50%) scaleX(1.0080);">TÄGLICHE TEMPERATUR</div>
<div class="abs" style="left:41px;top:1186px;width:1119px;height:110px;border-radius:6px;overflow:hidden;">
<div class="abs" style="left:0px;top:0;width:93px;height:110px;background:#e4e4fc;"></div>
<div class="abs" style="left:93px;top:0;width:93px;height:110px;background:#f8f8ff;"></div>
<div class="abs" style="left:186px;top:0;width:93px;height:110px;background:#fefdfc;"></div>
<div class="abs" style="left:279px;top:0;width:93px;height:110px;background:#ffdfc2;"></div>
<div class="abs" style="left:372px;top:0;width:93px;height:110px;background:#ffc999;"></div>
<div class="abs" style="left:465px;top:0;width:93px;height:110px;background:#ffab5e;"></div>
<div class="abs" style="left:558px;top:0;width:93px;height:110px;background:#ff9f45;"></div>
<div class="abs" style="left:651px;top:0;width:93px;height:110px;background:#ff9f45;"></div>
<div class="abs" style="left:744px;top:0;width:93px;height:110px;background:#ffba7a;"></div>
<div class="abs" style="left:837px;top:0;width:93px;height:110px;background:#ffd6b0;"></div>
<div class="abs" style="left:930px;top:0;width:93px;height:110px;background:#fffdfb;"></div>
<div class="abs" style="left:1023px;top:0;width:96px;height:110px;background:#ebebff;"></div>
<div class="abs" style="left:0;top:39.5px;width:1119px;height:1px;background:#fff;"></div>
</div>
<div class="t" style="top:1197.81px;font-size:17px;font-weight:bold;color:rgba(0,0,0,0.47);letter-spacing:0px;left:86.0px;transform:translateX(-50%) scaleX(0.9600);">JAN</div>
<div class="t" style="top:1247.84px;font-size:27px;font-weight:bold;color:rgba(0,0,0,0.47);letter-spacing:0px;left:87.0px;transform:translateX(-50%) scaleX(1.0000);">0°</div>
<div class="t" style="top:1197.81px;font-size:17px;font-weight:bold;color:rgba(0,0,0,0.47);letter-spacing:0px;left:179.0px;transform:translateX(-50%) scaleX(0.9600);">FEB</div>
<div class="t" style="top:1247.84px;font-size:27px;font-weight:bold;color:rgba(0,0,0,0.47);letter-spacing:0px;left:180.0px;transform:translateX(-50%) scaleX(1.0000);">0°</div>
<div class="t" style="top:1197.81px;font-size:17px;font-weight:bold;color:rgba(0,0,0,0.47);letter-spacing:0px;left:272.0px;transform:translateX(-50%) scaleX(0.9600);">MÄR</div>
<div class="t" style="top:1247.84px;font-size:27px;font-weight:bold;color:rgba(0,0,0,0.47);letter-spacing:0px;left:273.0px;transform:translateX(-50%) scaleX(1.0000);">5°</div>
<div class="t" style="top:1197.81px;font-size:17px;font-weight:bold;color:rgba(0,0,0,0.47);letter-spacing:0px;left:365.0px;transform:translateX(-50%) scaleX(0.9600);">APR</div>
<div class="t" style="top:1247.84px;font-size:27px;font-weight:bold;color:rgba(0,0,0,0.47);letter-spacing:0px;left:366.0px;transform:translateX(-50%) scaleX(1.0000);">9°</div>
<div class="t" style="top:1197.81px;font-size:17px;font-weight:bold;color:rgba(0,0,0,0.47);letter-spacing:0px;left:458.0px;transform:translateX(-50%) scaleX(0.9600);">MAI</div>
<div class="t" style="top:1247.84px;font-size:27px;font-weight:bold;color:rgba(0,0,0,0.47);letter-spacing:0px;left:459.0px;transform:translateX(-50%) scaleX(1.0000);">12°</div>
<div class="t" style="top:1197.81px;font-size:17px;font-weight:bold;color:rgba(0,0,0,0.47);letter-spacing:0px;left:551.0px;transform:translateX(-50%) scaleX(0.9600);">JUN</div>
<div class="t" style="top:1247.84px;font-size:27px;font-weight:bold;color:rgba(0,0,0,0.47);letter-spacing:0px;left:552.0px;transform:translateX(-50%) scaleX(1.0000);">16°</div>
<div class="t" style="top:1197.81px;font-size:17px;font-weight:bold;color:rgba(0,0,0,0.47);letter-spacing:0px;left:644.0px;transform:translateX(-50%) scaleX(0.9600);">JUL</div>
<div class="t" style="top:1247.84px;font-size:27px;font-weight:bold;color:rgba(0,0,0,0.47);letter-spacing:0px;left:645.0px;transform:translateX(-50%) scaleX(1.0000);">18°</div>
<div class="t" style="top:1197.81px;font-size:17px;font-weight:bold;color:rgba(0,0,0,0.47);letter-spacing:0px;left:737.0px;transform:translateX(-50%) scaleX(0.9600);">AUG</div>
<div class="t" style="top:1247.84px;font-size:27px;font-weight:bold;color:rgba(0,0,0,0.47);letter-spacing:0px;left:738.0px;transform:translateX(-50%) scaleX(1.0000);">18°</div>
<div class="t" style="top:1197.81px;font-size:17px;font-weight:bold;color:rgba(0,0,0,0.47);letter-spacing:0px;left:830.0px;transform:translateX(-50%) scaleX(0.9600);">SEP</div>
<div class="t" style="top:1247.84px;font-size:27px;font-weight:bold;color:rgba(0,0,0,0.47);letter-spacing:0px;left:831.0px;transform:translateX(-50%) scaleX(1.0000);">14°</div>
<div class="t" style="top:1197.81px;font-size:17px;font-weight:bold;color:rgba(0,0,0,0.47);letter-spacing:0px;left:923.0px;transform:translateX(-50%) scaleX(0.9600);">OKT</div>
<div class="t" style="top:1247.84px;font-size:27px;font-weight:bold;color:rgba(0,0,0,0.47);letter-spacing:0px;left:924.0px;transform:translateX(-50%) scaleX(1.0000);">10°</div>
<div class="t" style="top:1197.81px;font-size:17px;font-weight:bold;color:rgba(0,0,0,0.47);letter-spacing:0px;left:1016.0px;transform:translateX(-50%) scaleX(0.9600);">NOV</div>
<div class="t" style="top:1247.84px;font-size:27px;font-weight:bold;color:rgba(0,0,0,0.47);letter-spacing:0px;left:1017.0px;transform:translateX(-50%) scaleX(1.0000);">5°</div>
<div class="t" style="top:1197.81px;font-size:17px;font-weight:bold;color:rgba(0,0,0,0.47);letter-spacing:0px;left:1110.5px;transform:translateX(-50%) scaleX(0.9600);">DEZ</div>
<div class="t" style="top:1247.84px;font-size:27px;font-weight:bold;color:rgba(0,0,0,0.47);letter-spacing:0px;left:1111.5px;transform:translateX(-50%) scaleX(1.0000);">1°</div>
<svg style="left:0;top:0" width="1200" height="1900" viewBox="0 0 1200 1900"><line x1="115.2" y1="1784.2" x2="731.4" y2="1784.2" stroke="#aac8e0" stroke-width="1"/><line x1="109.2" y1="1784.2" x2="115.2" y2="1784.2" stroke="#005b9c" stroke-width="1"/><line x1="115.2" y1="1753.7" x2="731.4" y2="1753.7" stroke="#aac8e0" stroke-width="1"/><line x1="109.2" y1="1753.7" x2="115.2" y2="1753.7" stroke="#005b9c" stroke-width="1"/><line x1="115.2" y1="1723.1" x2="731.4" y2="1723.1" stroke="#aac8e0" stroke-width="1"/><line x1="109.2" y1="1723.1" x2="115.2" y2="1723.1" stroke="#005b9c" stroke-width="1"/><line x1="115.2" y1="1692.6" x2="731.4" y2="1692.6" stroke="#aac8e0" stroke-width="1"/><line x1="109.2" y1="1692.6" x2="115.2" y2="1692.6" stroke="#005b9c" stroke-width="1"/><line x1="115.2" y1="1662.1" x2="731.4" y2="1662.1" stroke="#aac8e0" stroke-width="1"/><line x1="109.2" y1="1662.1" x2="115.2" y2="1662.1" stroke="#005b9c" stroke-width="1"/><line x1="115.2" y1="1631.5" x2="731.4" y2="1631.5" stroke="#aac8e0" stroke-width="1"/><line x1="109.2" y1="1631.5" x2="115.2" y2="1631.5" stroke="#005b9c" stroke-width="1"/><line x1="115.2" y1="1601.0" x2="731.4" y2="1601.0" stroke="#aac8e0" stroke-width="1"/><line x1="109.2" y1="1601.0" x2="115.2" y2="1601.0" stroke="#005b9c" stroke-width="1"/><line x1="115.2" y1="1570.5" x2="731.4" y2="1570.5" stroke="#aac8e0" stroke-width="1"/><line x1="109.2" y1="1570.5" x2="115.2" y2="1570.5" stroke="#005b9c" stroke-width="1"/><line x1="115.2" y1="1539.9" x2="731.4" y2="1539.9" stroke="#aac8e0" stroke-width="1"/><line x1="109.2" y1="1539.9" x2="115.2" y2="1539.9" stroke="#005b9c" stroke-width="1"/><line x1="115.2" y1="1509.4" x2="731.4" y2="1509.4" stroke="#aac8e0" stroke-width="1"/><line x1="109.2" y1="1509.4" x2="115.2" y2="1509.4" stroke="#005b9c" stroke-width="1"/><line x1="166.6" y1="1509.4" x2="166.6" y2="1784.2" stroke="#aac8e0" stroke-width="1"/><line x1="217.9" y1="1509.4" x2="217.9" y2="1784.2" stroke="#aac8e0" stroke-width="1"/><line x1="269.2" y1="1509.4" x2="269.2" y2="1784.2" stroke="#aac8e0" stroke-width="1"/><line x1="320.6" y1="1509.4" x2="320.6" y2="1784.2" stroke="#aac8e0" stroke-width="1"/><line x1="371.9" y1="1509.4" x2="371.9" y2="1784.2" stroke="#aac8e0" stroke-width="1"/><line x1="423.3" y1="1509.4" x2="423.3" y2="1784.2" stroke="#aac8e0" stroke-width="1"/><line x1="474.6" y1="1509.4" x2="474.6" y2="1784.2" stroke="#aac8e0" stroke-width="1"/><line x1="526.0" y1="1509.4" x2="526.0" y2="1784.2" stroke="#aac8e0" stroke-width="1"/><line x1="577.4" y1="1509.4" x2="577.4" y2="1784.2" stroke="#aac8e0" stroke-width="1"/><line x1="628.7" y1="1509.4" x2="628.7" y2="1784.2" stroke="#aac8e0" stroke-width="1"/><line x1="680.0" y1="1509.4" x2="680.0" y2="1784.2" stroke="#aac8e0" stroke-width="1"/><line x1="731.4" y1="1509.4" x2="731.4" y2="1784.2" stroke="#aac8e0" stroke-width="1"/><rect x="131.0" y="1616.1" width="21.8" height="168.1" fill="#005b9c"/><rect x="182.3" y="1661.2" width="21.8" height="123.0" fill="#005b9c"/><rect x="233.7" y="1664.4" width="21.8" height="119.8" fill="#005b9c"/><rect x="285.0" y="1628.5" width="21.8" height="155.7" fill="#005b9c"/><rect x="336.4" y="1516.0" width="21.8" height="268.2" fill="#005b9c"/><rect x="387.7" y="1524.1" width="21.8" height="260.1" fill="#005b9c"/><rect x="439.1" y="1541.5" width="21.8" height="242.7" fill="#005b9c"/><rect x="490.4" y="1557.3" width="21.8" height="226.9" fill="#005b9c"/><rect x="541.8" y="1634.6" width="21.8" height="149.6" fill="#005b9c"/><rect x="593.1" y="1624.2" width="21.8" height="160.0" fill="#005b9c"/><rect x="644.5" y="1637.2" width="21.8" height="147.0" fill="#005b9c"/><rect x="695.8" y="1602.5" width="21.8" height="181.7" fill="#005b9c"/><line x1="115.2" y1="1509.4" x2="115.2" y2="1784.2" stroke="#005b9c" stroke-width="1.3"/><line x1="115.2" y1="1784.2" x2="731.4" y2="1784.2" stroke="#005b9c" stroke-width="1.3"/><rect x="312" y="1835" width="7.8" height="7.8" fill="#005b9c"/></svg>
<div class="t" style="top:1778.81px;font-size:10.5px;font-weight:normal;color:#005b9c;letter-spacing:0px;left:104.3px;transform-origin:100% 50%;transform:translateX(-100%) scaleX(1.1581);">0 mm</div>
<div class="t" style="top:1748.28px;font-size:10.5px;font-weight:normal;color:#005b9c;letter-spacing:0px;left:104.3px;transform-origin:100% 50%;transform:translateX(-100%) scaleX(1.1343);">20 mm</div>
<div class="t" style="top:1717.75px;font-size:10.5px;font-weight:normal;color:#005b9c;letter-spacing:0px;left:104.3px;transform-origin:100% 50%;transform:translateX(-100%) scaleX(1.1343);">40 mm</div>
<div class="t" style="top:1687.21px;font-size:10.5px;font-weight:normal;color:#005b9c;letter-spacing:0px;left:104.3px;transform-origin:100% 50%;transform:translateX(-100%) scaleX(1.1343);">60 mm</div>
<div class="t" style="top:1656.68px;font-size:10.5px;font-weight:normal;color:#005b9c;letter-spacing:0px;left:104.3px;transform-origin:100% 50%;transform:translateX(-100%) scaleX(1.1343);">80 mm</div>
<div class="t" style="top:1626.15px;font-size:10.5px;font-weight:normal;color:#005b9c;letter-spacing:0px;left:104.3px;transform-origin:100% 50%;transform:translateX(-100%) scaleX(1.1179);">100 mm</div>
<div class="t" style="top:1595.61px;font-size:10.5px;font-weight:normal;color:#005b9c;letter-spacing:0px;left:104.3px;transform-origin:100% 50%;transform:translateX(-100%) scaleX(1.1179);">120 mm</div>
<div class="t" style="top:1565.08px;font-size:10.5px;font-weight:normal;color:#005b9c;letter-spacing:0px;left:104.3px;transform-origin:100% 50%;transform:translateX(-100%) scaleX(1.1179);">140 mm</div>
<div class="t" style="top:1534.55px;font-size:10.5px;font-weight:normal;color:#005b9c;letter-spacing:0px;left:104.3px;transform-origin:100% 50%;transform:translateX(-100%) scaleX(1.1179);">160 mm</div>
<div class="t" style="top:1504.01px;font-size:10.5px;font-weight:normal;color:#005b9c;letter-spacing:0px;left:104.3px;transform-origin:100% 50%;transform:translateX(-100%) scaleX(1.1179);">180 mm</div>
<div class="t" style="top:1795.12px;font-size:12.5px;font-weight:normal;color:#005b9c;letter-spacing:0px;left:139.675px;transform:translateX(-50%) scaleX(0.9600);">Jan</div>
<div class="t" style="top:1795.12px;font-size:12.5px;font-weight:normal;color:#005b9c;letter-spacing:0px;left:191.025px;transform:translateX(-50%) scaleX(0.9600);">Feb</div>
<div class="t" style="top:1795.12px;font-size:12.5px;font-weight:normal;color:#005b9c;letter-spacing:0px;left:242.375px;transform:translateX(-50%) scaleX(0.9600);">Mär</div>
<div class="t" style="top:1795.12px;font-size:12.5px;font-weight:normal;color:#005b9c;letter-spacing:0px;left:293.72499999999997px;transform:translateX(-50%) scaleX(0.9600);">Apr</div>
<div class="t" style="top:1795.12px;font-size:12.5px;font-weight:normal;color:#005b9c;letter-spacing:0px;left:345.075px;transform:translateX(-50%) scaleX(0.9600);">Mai</div>
<div class="t" style="top:1795.12px;font-size:12.5px;font-weight:normal;color:#005b9c;letter-spacing:0px;left:396.42499999999995px;transform:translateX(-50%) scaleX(0.9600);">Jun</div>
<div class="t" style="top:1795.12px;font-size:12.5px;font-weight:normal;color:#005b9c;letter-spacing:0px;left:447.775px;transform:translateX(-50%) scaleX(0.9600);">Jul</div>
<div class="t" style="top:1795.12px;font-size:12.5px;font-weight:normal;color:#005b9c;letter-spacing:0px;left:499.12499999999994px;transform:translateX(-50%) scaleX(0.9600);">Aug</div>
<div class="t" style="top:1795.12px;font-size:12.5px;font-weight:normal;color:#005b9c;letter-spacing:0px;left:550.4749999999999px;transform:translateX(-50%) scaleX(0.9600);">Sep</div>
<div class="t" style="top:1795.12px;font-size:12.5px;font-weight:normal;color:#005b9c;letter-spacing:0px;left:601.8249999999999px;transform:translateX(-50%) scaleX(0.9600);">Okt</div>
<div class="t" style="top:1795.12px;font-size:12.5px;font-weight:normal;color:#005b9c;letter-spacing:0px;left:653.175px;transform:translateX(-50%) scaleX(0.9600);">Nov</div>
<div class="t" style="top:1795.12px;font-size:12.5px;font-weight:normal;color:#005b9c;letter-spacing:0px;left:704.525px;transform:translateX(-50%) scaleX(0.9600);">Dez</div>
<div class="t" id="leg3" style="top:1832.92px;font-size:12.5px;font-weight:normal;color:#005b9c;letter-spacing:0px;left:328px;transform-origin:0 50%;transform:scaleX(1.1274);">Niederschlagssumme</div>
<div class="t" id="yl2" style="left:45px;top:1649px;font-size:13px;letter-spacing:0.3px;transform:translate(-50%,-50%) rotate(-90deg);">Niederschlag</div>
<div class="t" id="pt_0" style="top:1507.16px;font-size:18px;font-weight:normal;color:#005b9c;letter-spacing:0px;left:785.0px;transform-origin:0 50%;transform:scaleX(1.1058);">Die durchschnittliche jährliche</div>
<div class="t" id="pt_1" style="top:1530.91px;font-size:18px;font-weight:normal;color:#005b9c;letter-spacing:0px;left:785.0px;transform-origin:0 50%;transform:scaleX(1.0829);">Niederschlagsmenge in Lenzburg</div>
<div class="t" id="pt_2" style="top:1554.66px;font-size:18px;font-weight:normal;color:#005b9c;letter-spacing:0px;left:785.0px;transform-origin:0 50%;transform:scaleX(1.0995);">beträgt etwa 1443 mm. Der Unterschied</div>
<div class="t" id="pt_3" style="top:1578.41px;font-size:18px;font-weight:normal;color:#005b9c;letter-spacing:0px;left:785.0px;transform-origin:0 50%;transform:scaleX(1.0857);">zwischen der höchsten</div>
<div class="t" id="pt_4" style="top:1602.16px;font-size:18px;font-weight:normal;color:#005b9c;letter-spacing:0px;left:785.0px;transform-origin:0 50%;transform:scaleX(1.0788);">Niederschlagsmenge (Mai) und der</div>
<div class="t" id="pt_5" style="top:1625.91px;font-size:18px;font-weight:normal;color:#005b9c;letter-spacing:0px;left:785.0px;transform-origin:0 50%;transform:scaleX(1.0985);">niedrigsten (März) beträgt 97 mm.</div>
<div class="t" id="pt_7" style="top:1673.41px;font-size:18px;font-weight:normal;color:#005b9c;letter-spacing:0px;left:785.0px;transform-origin:0 50%;transform:scaleX(1.0906);">Die meisten Niederschläge fallen im Mai,</div>
<div class="t" id="pt_8" style="top:1697.16px;font-size:18px;font-weight:normal;color:#005b9c;letter-spacing:0px;left:785.0px;transform-origin:0 50%;transform:scaleX(1.1211);">mit einer monatlichen</div>
<div class="t" id="pt_9" style="top:1720.91px;font-size:18px;font-weight:normal;color:#005b9c;letter-spacing:0px;left:785.0px;transform-origin:0 50%;transform:scaleX(1.0857);">Niederschlagsmenge von 176 mm in</div>
<div class="t" id="pt_10" style="top:1744.66px;font-size:18px;font-weight:normal;color:#005b9c;letter-spacing:0px;left:785.0px;transform-origin:0 50%;transform:scaleX(1.1046);">diesem Zeitraum und einer</div>
<div class="t" id="pt_11" style="top:1768.41px;font-size:18px;font-weight:normal;color:#005b9c;letter-spacing:0px;left:785.0px;transform-origin:0 50%;transform:scaleX(1.0910);">Niederschlagswahrscheinlichkeit von</div>
<div class="t" id="pt_12" style="top:1792.16px;font-size:18px;font-weight:normal;color:#005b9c;letter-spacing:0px;left:785.0px;transform-origin:0 50%;transform:scaleX(1.0672);">etwa 45%. Die geringsten</div>
<div class="t" id="pt_13" style="top:1815.91px;font-size:18px;font-weight:normal;color:#005b9c;letter-spacing:0px;left:785.0px;transform-origin:0 50%;transform:scaleX(1.0854);">Niederschlagsmengen werden dagegen</div>
<div class="t" id="pt_14" style="top:1839.66px;font-size:18px;font-weight:normal;color:#005b9c;letter-spacing:0px;left:785.0px;transform-origin:0 50%;transform:scaleX(1.1161);">im März mit durchschnittlich 79 mm und</div>
<div class="t" id="pt_15" style="top:1863.41px;font-size:18px;font-weight:normal;color:#005b9c;letter-spacing:0px;left:785.0px;transform-origin:0 50%;transform:scaleX(1.0888);">einer Wahrscheinlichkeit von 30%</div>
<div class="t" id="pt_16" style="top:1887.16px;font-size:18px;font-weight:normal;color:#005b9c;letter-spacing:0px;left:785.0px;transform-origin:0 50%;transform:scaleX(1.0768);">verzeichnet.</div>
<div class="t" id="pt_h" style="top:1938.46px;font-size:18px;font-weight:bold;color:#005b9c;letter-spacing:0px;-webkit-text-stroke:0.36px #005b9c;left:785.3px;transform-origin:0 50%;transform:scaleX(1.0012);">NIEDERSCHLAG NACH TYP</div>
<div class="t" id="pt_r" style="top:1971.06px;font-size:18px;font-weight:normal;color:#005b9c;letter-spacing:0px;left:785.0px;transform-origin:0 50%;transform:scaleX(1.0066);">• Regen: 89%</div>
<div class="t" id="pt_s" style="top:2000.56px;font-size:18px;font-weight:normal;color:#005b9c;letter-spacing:0px;left:785.0px;transform-origin:0 50%;transform:scaleX(1.0244);">• Schnee: 11%</div>
<div class="abs" style="left:37px;top:1870px;width:703px;height:151px;background:#b0dcff;border-radius:6px;overflow:hidden;"><div class="abs" style="left:0;top:0;width:703px;height:30.8px;background:#2e9dde;"></div></div>
<div class="t" id="pr_h" style="top:1878.76px;font-size:16px;font-weight:bold;color:#fff;letter-spacing:0px;-webkit-text-stroke:0.32px #fff;left:389px;transform:translateX(-50%) scaleX(0.9665);">NIEDERSCHLAGSWAHRSCHEINLICHKEIT</div>
<svg style="left:0;top:1900px" width="760" height="130" viewBox="0 1900 760 130"><path d="M67.0,1915.3 C71.0,1925 92.0,1950 92.0,1966.0 A25,25 0 0 1 42.0,1966.0 C42.0,1950 63.0,1925 67.0,1915.3 Z" fill="#005b9c"/><path d="M125.4,1915.3 C129.4,1925 150.4,1950 150.4,1966.0 A25,25 0 0 1 100.4,1966.0 C100.4,1950 121.4,1925 125.4,1915.3 Z" fill="#005b9c"/><path d="M183.8,1915.3 C187.8,1925 208.8,1950 208.8,1966.0 A25,25 0 0 1 158.8,1966.0 C158.8,1950 179.8,1925 183.8,1915.3 Z" fill="#005b9c"/><path d="M242.2,1915.3 C246.2,1925 267.2,1950 267.2,1966.0 A25,25 0 0 1 217.2,1966.0 C217.2,1950 238.2,1925 242.2,1915.3 Z" fill="#005b9c"/><path d="M300.6,1915.3 C304.6,1925 325.6,1950 325.6,1966.0 A25,25 0 0 1 275.6,1966.0 C275.6,1950 296.6,1925 300.6,1915.3 Z" fill="#005b9c"/><path d="M359.0,1915.3 C363.0,1925 384.0,1950 384.0,1966.0 A25,25 0 0 1 334.0,1966.0 C334.0,1950 355.0,1925 359.0,1915.3 Z" fill="#005b9c"/><path d="M417.4,1915.3 C421.4,1925 442.4,1950 442.4,1966.0 A25,25 0 0 1 392.4,1966.0 C392.4,1950 413.4,1925 417.4,1915.3 Z" fill="#005b9c"/><path d="M475.8,1915.3 C479.8,1925 500.8,1950 500.8,1966.0 A25,25 0 0 1 450.8,1966.0 C450.8,1950 471.8,1925 475.8,1915.3 Z" fill="#005b9c"/><path d="M534.2,1915.3 C538.2,1925 559.2,1950 559.2,1966.0 A25,25 0 0 1 509.2,1966.0 C509.2,1950 530.2,1925 534.2,1915.3 Z" fill="#005b9c"/><path d="M592.6,1915.3 C596.6,1925 617.6,1950 617.6,1966.0 A25,25 0 0 1 567.6,1966.0 C567.6,1950 588.6,1925 592.6,1915.3 Z" fill="#005b9c"/><path d="M651.0,1915.3 C655.0,1925 676.0,1950 676.0,1966.0 A25,25 0 0 1 626.0,1966.0 C626.0,1950 647.0,1925 651.0,1915.3 Z" fill="#005b9c"/><path d="M709.4,1915.3 C713.4,1925 734.4,1950 734.4,1966.0 A25,25 0 0 1 684.4,1966.0 C684.4,1950 705.4,1925 709.4,1915.3 Z" fill="#005b9c"/></svg>
<div class="t" style="top:1958.81px;font-size:17px;font-weight:bold;color:#fff;letter-spacing:0px;-webkit-text-stroke:0.34px #fff;left:66.0px;transform:translateX(-50%) scaleX(1.0727);">38%</div>
<div class="t" style="top:1999.24px;font-size:12px;font-weight:bold;color:#005b9c;letter-spacing:0px;-webkit-text-stroke:0.24px #005b9c;left:65.8px;transform:translateX(-50%) scaleX(0.9000);">JAN</div>
<div class="t" style="top:1958.81px;font-size:17px;font-weight:bold;color:#fff;letter-spacing:0px;-webkit-text-stroke:0.34px #fff;left:124.4px;transform:translateX(-50%) scaleX(1.0727);">31%</div>
<div class="t" style="top:1999.24px;font-size:12px;font-weight:bold;color:#005b9c;letter-spacing:0px;-webkit-text-stroke:0.24px #005b9c;left:124.2px;transform:translateX(-50%) scaleX(0.9000);">FEB</div>
<div class="t" style="top:1958.81px;font-size:17px;font-weight:bold;color:#fff;letter-spacing:0px;-webkit-text-stroke:0.34px #fff;left:182.8px;transform:translateX(-50%) scaleX(1.0727);">30%</div>
<div class="t" style="top:1999.24px;font-size:12px;font-weight:bold;color:#005b9c;letter-spacing:0px;-webkit-text-stroke:0.24px #005b9c;left:182.60000000000002px;transform:translateX(-50%) scaleX(0.9000);">MÄR</div>
<div class="t" style="top:1958.81px;font-size:17px;font-weight:bold;color:#fff;letter-spacing:0px;-webkit-text-stroke:0.34px #fff;left:241.2px;transform:translateX(-50%) scaleX(1.0727);">32%</div>
<div class="t" style="top:1999.24px;font-size:12px;font-weight:bold;color:#005b9c;letter-spacing:0px;-webkit-text-stroke:0.24px #005b9c;left:241.0px;transform:translateX(-50%) scaleX(0.9000);">APR</div>
<div class="t" style="top:1958.81px;font-size:17px;font-weight:bold;color:#fff;letter-spacing:0px;-webkit-text-stroke:0.34px #fff;left:299.6px;transform:translateX(-50%) scaleX(1.0727);">45%</div>
<div class="t" style="top:1999.24px;font-size:12px;font-weight:bold;color:#005b9c;letter-spacing:0px;-webkit-text-stroke:0.24px #005b9c;left:299.40000000000003px;transform:translateX(-50%) scaleX(0.9000);">MAI</div>
<div class="t" style="top:1958.81px;font-size:17px;font-weight:bold;color:#fff;letter-spacing:0px;-webkit-text-stroke:0.34px #fff;left:358.0px;transform:translateX(-50%) scaleX(1.0727);">43%</div>
<div class="t" style="top:1999.24px;font-size:12px;font-weight:bold;color:#005b9c;letter-spacing:0px;-webkit-text-stroke:0.24px #005b9c;left:357.8px;transform:translateX(-50%) scaleX(0.9000);">JUN</div>
<div class="t" style="top:1958.81px;font-size:17px;font-weight:bold;color:#fff;letter-spacing:0px;-webkit-text-stroke:0.34px #fff;left:416.4px;transform:translateX(-50%) scaleX(1.0727);">38%</div>
<div class="t" style="top:1999.24px;font-size:12px;font-weight:bold;color:#005b9c;letter-spacing:0px;-webkit-text-stroke:0.24px #005b9c;left:416.2px;transform:translateX(-50%) scaleX(0.9000);">JUL</div>
<div class="t" style="top:1958.81px;font-size:17px;font-weight:bold;color:#fff;letter-spacing:0px;-webkit-text-stroke:0.34px #fff;left:474.8px;transform:translateX(-50%) scaleX(1.0727);">37%</div>
<div class="t" style="top:1999.24px;font-size:12px;font-weight:bold;color:#005b9c;letter-spacing:0px;-webkit-text-stroke:0.24px #005b9c;left:474.6px;transform:translateX(-50%) scaleX(0.9000);">AUG</div>
<div class="t" style="top:1958.81px;font-size:17px;font-weight:bold;color:#fff;letter-spacing:0px;-webkit-text-stroke:0.34px #fff;left:533.2px;transform:translateX(-50%) scaleX(1.0727);">30%</div>
<div class="t" style="top:1999.24px;font-size:12px;font-weight:bold;color:#005b9c;letter-spacing:0px;-webkit-text-stroke:0.24px #005b9c;left:533.0px;transform:translateX(-50%) scaleX(0.9000);">SEP</div>
<div class="t" style="top:1958.81px;font-size:17px;font-weight:bold;color:#fff;letter-spacing:0px;-webkit-text-stroke:0.34px #fff;left:591.6px;transform:translateX(-50%) scaleX(1.0727);">34%</div>
<div class="t" style="top:1999.24px;font-size:12px;font-weight:bold;color:#005b9c;letter-spacing:0px;-webkit-text-stroke:0.24px #005b9c;left:591.4px;transform:translateX(-50%) scaleX(0.9000);">OKT</div>
<div class="t" style="top:1958.81px;font-size:17px;font-weight:bold;color:#fff;letter-spacing:0px;-webkit-text-stroke:0.34px #fff;left:650.0px;transform:translateX(-50%) scaleX(1.0727);">30%</div>
<div class="t" style="top:1999.24px;font-size:12px;font-weight:bold;color:#005b9c;letter-spacing:0px;-webkit-text-stroke:0.24px #005b9c;left:649.8px;transform:translateX(-50%) scaleX(0.9000);">NOV</div>
<div class="t" style="top:1958.81px;font-size:17px;font-weight:bold;color:#fff;letter-spacing:0px;-webkit-text-stroke:0.34px #fff;left:708.4px;transform:translateX(-50%) scaleX(1.0727);">39%</div>
<div class="t" style="top:1999.24px;font-size:12px;font-weight:bold;color:#005b9c;letter-spacing:0px;-webkit-text-stroke:0.24px #005b9c;left:708.1999999999999px;transform:translateX(-50%) scaleX(0.9000);">DEZ</div>
<svg style="left:30px;top:2085px" width="160" height="55" viewBox="0 0 1200 412" fill="none" stroke="#a8d8ff" stroke-width="25">
<circle cx="211" cy="197" r="126"/>
<circle cx="573" cy="197" r="126"/>
<circle cx="935" cy="197" r="126"/>
<g stroke-width="23">
<path d="M197,172 A33,33 0 1 0 197,220"/>
<path d="M282,172 A33,33 0 1 0 282,220"/>
</g>
<g fill="#a8d8ff" stroke="none">
<circle cx="573" cy="128" r="19"/>
<path d="M537,160 a6,6 0 0 1 6,-6 h60 a6,6 0 0 1 6,6 v56 h-15 v70 h-42 v-70 h-15 Z"/>
<rect x="887" y="165" width="103" height="23"/>
<rect x="887" y="210" width="103" height="23"/>
</g>
</svg>

<div class="t" id="ft_r" style="top:2100.12px;font-size:21px;font-weight:bold;color:#fff;letter-spacing:0px;-webkit-text-stroke:0.42px #fff;left:980px;transform-origin:0 50%;transform:scaleX(0.9966);">METEOATLAS.DE</div>
<div class="t" id="ft_l" style="top:2104.20px;font-size:15px;font-weight:bold;color:#a8d8ff;letter-spacing:0px;-webkit-text-stroke:0.30px #a8d8ff;left:185px;transform-origin:0 50%;transform:scaleX(1.1690);">CC BY-ND 4.0</div>
</body></html>
